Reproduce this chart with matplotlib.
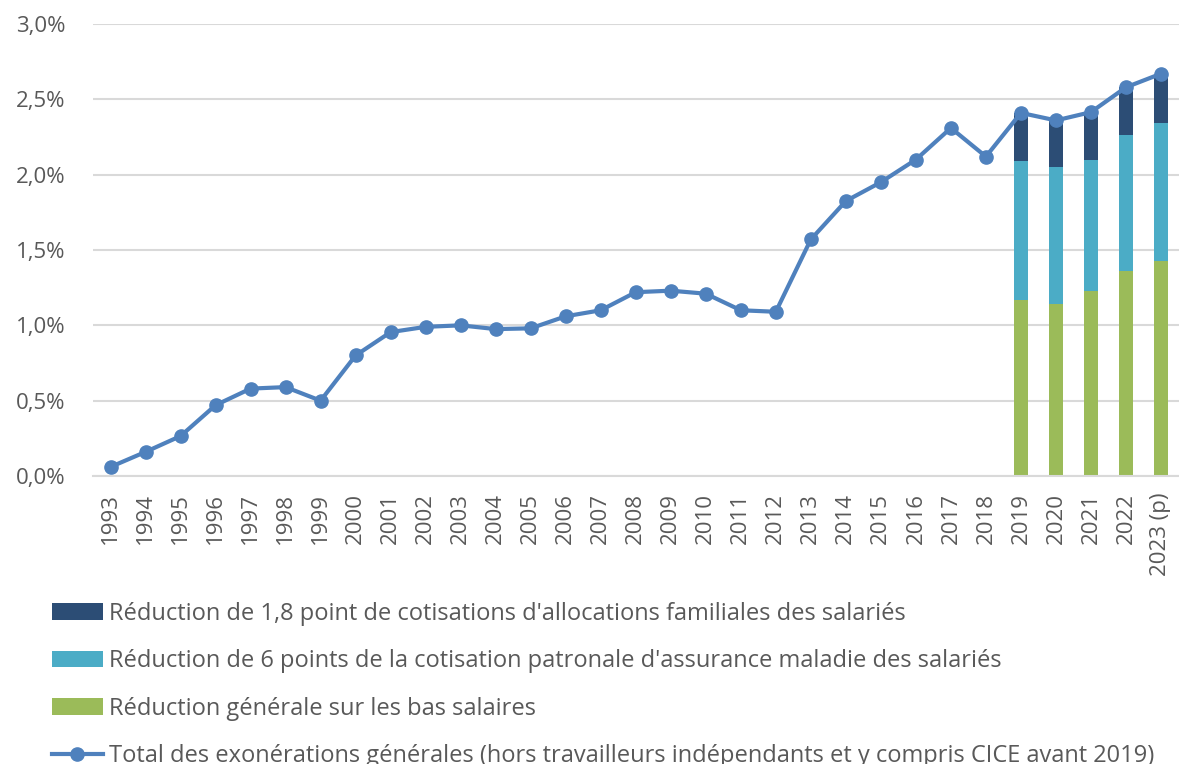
import matplotlib

matplotlib.use('Agg')
import matplotlib.pyplot as plt
from matplotlib.ticker import FuncFormatter

# data (% of gross payroll)
years = ['1993', '1994', '1995', '1996', '1997', '1998', '1999', '2000',
         '2001', '2002', '2003', '2004', '2005', '2006', '2007', '2008',
         '2009', '2010', '2011', '2012', '2013', '2014', '2015', '2016',
         '2017', '2018', '2019', '2020', '2021', '2022', '2023 (p)']
total = [0.06, 0.16, 0.265, 0.47, 0.58, 0.59, 0.50, 0.80, 0.955, 0.99,
         1.00, 0.975, 0.98, 1.06, 1.10, 1.22, 1.23, 1.21, 1.10, 1.09,
         1.57, 1.825, 1.95, 2.10, 2.31, 2.12, 2.41, 2.36, 2.415, 2.58, 2.67]

bar_years = ['2019', '2020', '2021', '2022', '2023 (p)']
bas_salaires = [1.17, 1.14, 1.23, 1.36, 1.43]
maladie = [0.92, 0.91, 0.87, 0.90, 0.91]
famille = [0.32, 0.31, 0.315, 0.32, 0.33]

lab_famille = "Réduction de 1,8 point de cotisations d'allocations familiales des salariés"
lab_maladie = "Réduction de 6 points de la cotisation patronale d'assurance maladie des salariés"
lab_bas = "Réduction générale sur les bas salaires"
lab_total = ("Total des exonérations générales (hors travailleurs indépendants "
             "et y compris CICE avant 2019)")

TEXT = '#595959'
plt.rcParams['font.family'] = ['Open Sans', 'DejaVu Sans']

fig = plt.figure(figsize=(11.79, 7.64), dpi=100)
ax = fig.add_axes([93 / 1179, 1 - 476 / 764, (1178.5 - 93) / 1179, 452 / 764])

x = list(range(len(years)))
bx = [years.index(y) for y in bar_years]
mid = [a + b for a, b in zip(bas_salaires, maladie)]

b_bas = ax.bar(bx, bas_salaires, width=0.4, color='#9BBB59', zorder=2)
b_mal = ax.bar(bx, maladie, bottom=bas_salaires, width=0.4, color='#4BACC6', zorder=2)
b_fam = ax.bar(bx, famille, bottom=mid, width=0.4, color='#2C4D75', zorder=2)
ln, = ax.plot(x, total, color='#4F81BD', lw=3, marker='o', markersize=9.5,
              zorder=3)

ax.set_xlim(-0.5, len(years) - 0.5)
ax.set_ylim(0, 3.0)
ax.set_yticks([0, 0.5, 1.0, 1.5, 2.0, 2.5, 3.0])
ax.yaxis.set_major_formatter(FuncFormatter(lambda v, p: f'{v:.1f}%'.replace('.', ',')))
ax.set_xticks(x)
ax.set_xticklabels(years, rotation=90)
ax.tick_params(length=0, labelsize=16, colors=TEXT)
ax.tick_params(axis='y', pad=20)
ax.tick_params(axis='x', pad=12)
ax.grid(axis='y', color='#D9D9D9', lw=1.5, zorder=0)
for s in ['top', 'right', 'left']:
    ax.spines[s].set_visible(False)
ax.spines['bottom'].set_color('#D9D9D9')
ax.spines['bottom'].set_linewidth(1.5)

fig.legend([b_fam, b_mal, b_bas, ln], [lab_famille, lab_maladie, lab_bas, lab_total],
           loc='upper left', bbox_to_anchor=(52 / 1179, 1 - 602 / 764),
           frameon=False, fontsize=17, labelcolor=TEXT, borderpad=0,
           borderaxespad=0, handlelength=2.15, handletextpad=0.28,
           labelspacing=0.99)

fig.savefig('out.png', dpi=100)
